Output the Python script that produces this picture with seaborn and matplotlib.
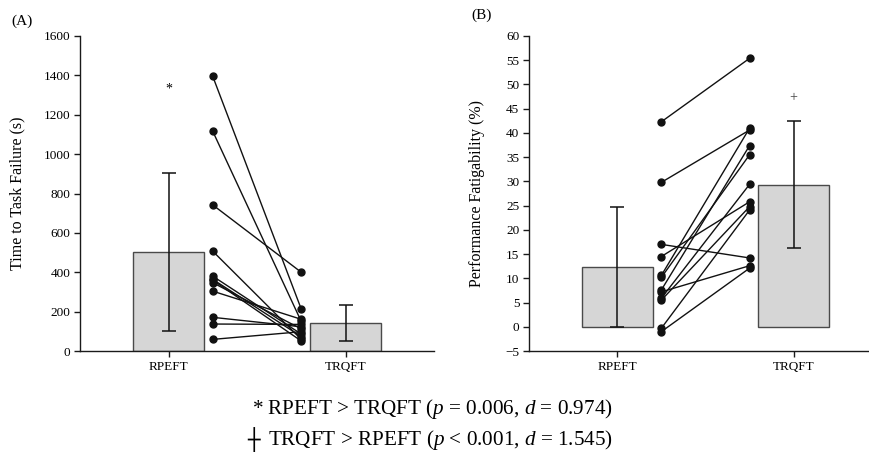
import matplotlib
matplotlib.use("Agg")
import matplotlib.pyplot as plt
import numpy as np
import pandas as pd
import seaborn as sns

# Conditions comparées
conditions = ["RPEFT", "TRQFT"]

# (A) Time to task failure (s) : moyenne, écart-type, valeurs individuelles
ttf_means = [503, 144]
ttf_sd = [400, 91]
ttf_rpeft = [1395, 1116, 742, 507, 380, 364, 360, 347, 304, 171, 137, 59]
ttf_trqft = [213, 150, 400, 59, 86, 73, 51, 112, 161, 123, 135, 98]

# (B) Performance fatigability (%)
pf_means = [12.4, 29.3]
pf_sd = [12.4, 13.1]
pf_rpeft = [42.3, 29.8, 17.0, 14.5, 10.6, 10.2, 7.6, 7.2, 5.9, 5.5, -0.3, -1.0]
pf_trqft = [55.4, 40.6, 14.2, 25.8, 41.0, 35.5, 37.4, 12.6, 29.4, 24.8, 24.1, 12.1]

sns.set_theme(style="ticks")
plt.rcParams["font.family"] = ["Liberation Serif", "DejaVu Sans"]
plt.rcParams["mathtext.fontset"] = "custom"
plt.rcParams["mathtext.rm"] = "Liberation Serif"
plt.rcParams["mathtext.it"] = "Liberation Serif:italic"
plt.rcParams["axes.edgecolor"] = "#1a1a1a"
plt.rcParams["axes.linewidth"] = 1.0
for key in ["text.color", "axes.labelcolor", "xtick.color", "ytick.color"]:
    plt.rcParams[key] = "black"

W, H = 869, 459
fig = plt.figure(figsize=(W / 100, H / 100), dpi=100)
ax_a = fig.add_axes([80 / W, 108 / H, 354 / W, 315 / H])
ax_b = fig.add_axes([529 / W, 108 / H, 353 / W, 315 / H])


def draw_panel(ax, means, sd, pre, post, ylim, yticks, ylabel, label_x):
    df = pd.DataFrame({"condition": conditions, "value": means})
    sns.barplot(data=df, x="condition", y="value", ax=ax, width=0.4,
                color="#d6d6d6", saturation=1, edgecolor="#4a4a4a",
                linewidth=1.0, errorbar=None, zorder=1)
    ax.errorbar([0, 1], means, yerr=sd, fmt="none", ecolor="#111111",
                elinewidth=1.1, capsize=5, capthick=1.1, zorder=2)
    for a, b in zip(pre, post):
        ax.plot([0.25, 0.75], [a, b], color="#111111", lw=1.0,
                marker="o", ms=5, zorder=3, clip_on=False)
    ax.set_xlim(-0.5, 1.5)
    ax.set_ylim(*ylim)
    ax.set_yticks(yticks)
    ax.set_xlabel("")
    ax.set_ylabel(ylabel, fontsize=11.5)
    ax.yaxis.set_label_coords(label_x, 0.5)
    ax.tick_params(axis="both", labelsize=9.5, length=4, width=1.0,
                   color="#1a1a1a", pad=3)
    sns.despine(ax=ax)


draw_panel(ax_a, ttf_means, ttf_sd, ttf_rpeft, ttf_trqft,
           (0, 1600), np.arange(0, 1601, 200), "Time to Task Failure (s)", -0.155)
draw_panel(ax_b, pf_means, pf_sd, pf_rpeft, pf_trqft,
           (-5, 60), np.arange(-5, 61, 5), "Performance Fatigability (%)", -0.125)

ax_a.text(0, 1330, "*", ha="center", va="center", fontsize=10)
ax_b.text(1, 47.2, "+", ha="center", va="center", fontsize=10, color="#444444")

fig.text(22 / W, 1 - 21 / H, "(A)", ha="center", va="center", fontsize=11)
fig.text(482 / W, 1 - 15 / H, "(B)", ha="center", va="center", fontsize=11)

fig.text(432 / W, 1 - 409 / H, "* RPEFT > TRQFT ($p$ = 0.006, $d$ = 0.974)",
         ha="center", va="center", fontsize=15.2)
fig.text(254 / W, 1 - 440 / H, "┼", ha="center", va="center", fontsize=15,
         family=["DejaVu Sans"])
fig.text(268 / W, 1 - 440 / H, "TRQFT > RPEFT ($p$ < 0.001, $d$ = 1.545)",
         ha="left", va="center", fontsize=15.2)

fig.savefig("out.png", dpi=100)
